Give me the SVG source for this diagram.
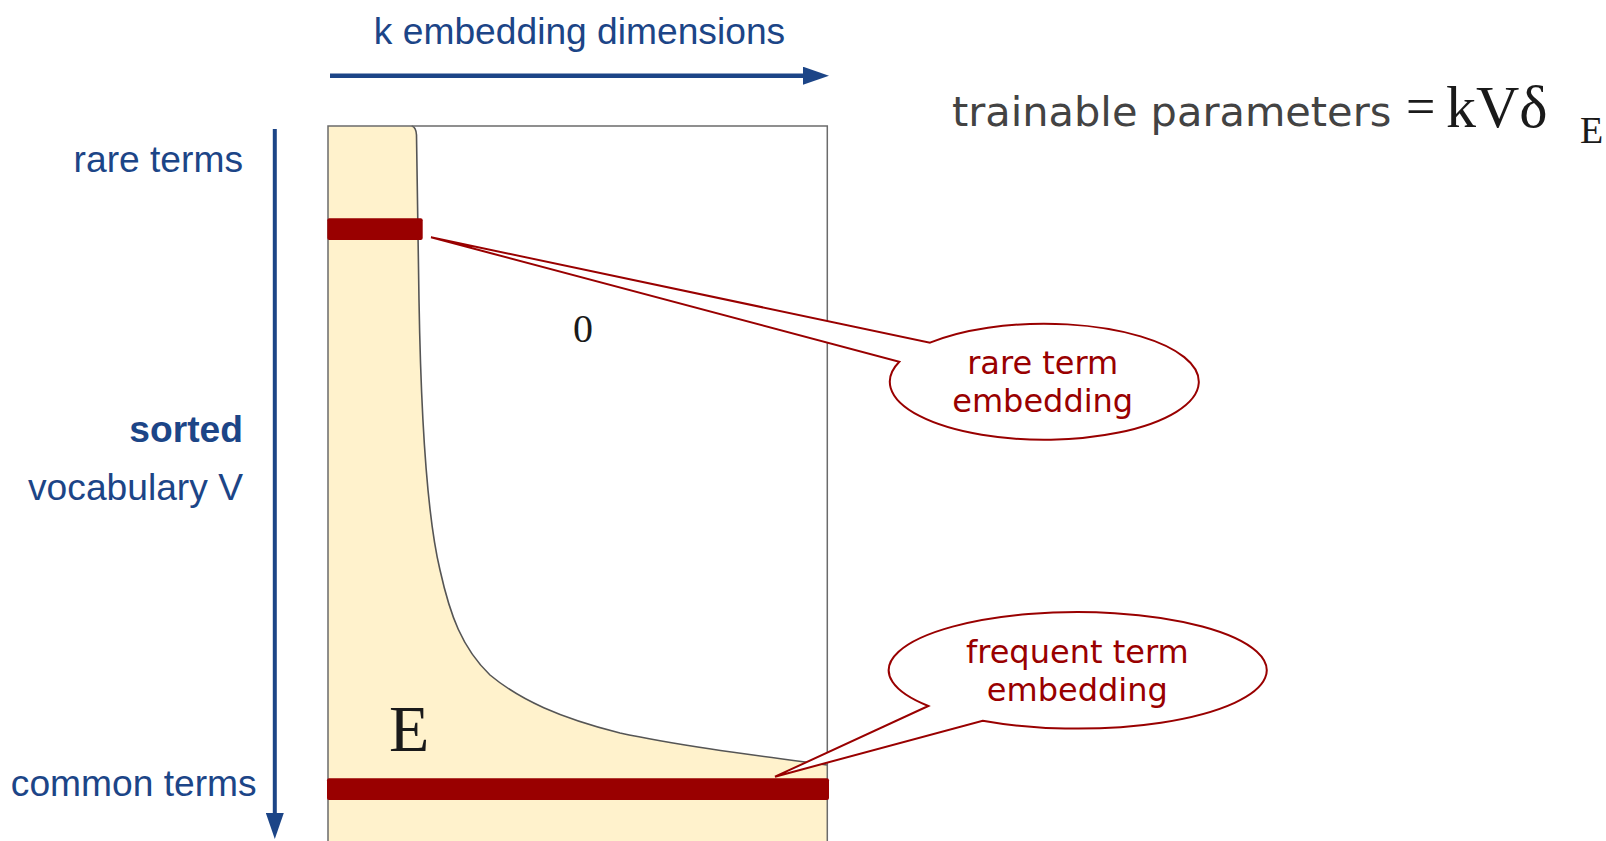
<svg xmlns="http://www.w3.org/2000/svg" width="1606" height="841" viewBox="0 0 1606 841">
<defs>
<style>
.blue{fill:#1c4587;font-family:"Liberation Sans",Arial,sans-serif;font-size:37.2px}
.cap{fill:#990000;font-family:"DejaVu Sans",Verdana,sans-serif;font-size:32px;text-anchor:middle}
.serif{font-family:"Liberation Serif","Times New Roman",serif;fill:#1a1a1a}
.callout{fill:#fff;stroke:#990000;stroke-width:2;stroke-linejoin:miter}
.bar{fill:#990000}
</style>
<marker id="ah" viewBox="0 0 10 10" refX="0" refY="5" markerUnits="userSpaceOnUse" markerWidth="26" markerHeight="18" preserveAspectRatio="none" orient="auto">
<path d="M0,0 L10,5 L0,10 Z" fill="#1c4587"/>
</marker>
</defs>
<rect width="1606" height="841" fill="#fff"/>

<g id="matrix">
<rect x="328" y="126" width="499.3" height="720" fill="#fff"/>
<path d="M328,126 L411.7,126 Q416,127 416.5,135 L419,300 C421,420 428,520 440,570 C450,615 462,648 490,675 C520,700 560,718 620,733 C680,746 760,756 827.3,765 L827.3,845 L328,845 Z" fill="#fff2cc"/>
<path d="M411.7,126 Q416,127 416.5,135 L419,300 C421,420 428,520 440,570 C450,615 462,648 490,675 C520,700 560,718 620,733 C680,746 760,756 827.3,765" fill="none" stroke="#555" stroke-width="1.6"/>
<path d="M328,845 V126 H827.3 V845" fill="none" stroke="#6b6b6b" stroke-width="1.5"/>
<text class="serif" x="573" y="342" font-size="40" fill="#000">0</text>
<text class="serif" x="389" y="751" font-size="66" fill="#000">E</text>
</g>

<g id="rare-bar"><rect class="bar" x="327.3" y="218.3" width="95.4" height="21.7" rx="2"/></g>
<g id="common-bar"><rect class="bar" x="327" y="778.3" width="502" height="21.7" rx="2"/></g>

<g id="connectors">
<line x1="330" y1="75.7" x2="803" y2="75.7" stroke="#1c4587" stroke-width="4.5" marker-end="url(#ah)"/>
<line x1="274.8" y1="129" x2="274.8" y2="813" stroke="#1c4587" stroke-width="4" marker-end="url(#ah)"/>
</g>

<g id="callout-rare">
<path class="callout" d="M431,237.3 L930,342.7 A154.5,58 0 1,1 899.3,361.7 Z"/>
<text class="cap" x="1042.7" y="374">rare term</text>
<text class="cap" x="1042.7" y="412">embedding</text>
</g>

<g id="callout-frequent">
<path class="callout" d="M775,776.7 L928.3,706 A189,58.3 0 1,1 982.7,720.7 Z"/>
<text class="cap" x="1077.3" y="662.7">frequent term</text>
<text class="cap" x="1077.3" y="701">embedding</text>
</g>

<g id="labels">
<text class="blue" x="579.5" y="44" text-anchor="middle">k embedding dimensions</text>
<text class="blue" x="243" y="171.7" text-anchor="end">rare terms</text>
<text class="blue" x="243" y="442" text-anchor="end" font-weight="bold">sorted</text>
<text class="blue" x="243" y="500" text-anchor="end">vocabulary V</text>
<text class="blue" x="256.7" y="796" text-anchor="end">common terms</text>
</g>

<g id="formula">
<text x="952" y="126" font-family="'DejaVu Sans',Verdana,sans-serif" font-size="41.5" fill="#434343">trainable parameters</text>
<text class="serif" x="1406" y="124" font-size="52" fill="#434343">=</text>
<text class="serif" x="1446" y="127" font-size="60">kVδ</text>
<text class="serif" x="1580" y="143" font-size="38">E</text>
</g>
</svg>
